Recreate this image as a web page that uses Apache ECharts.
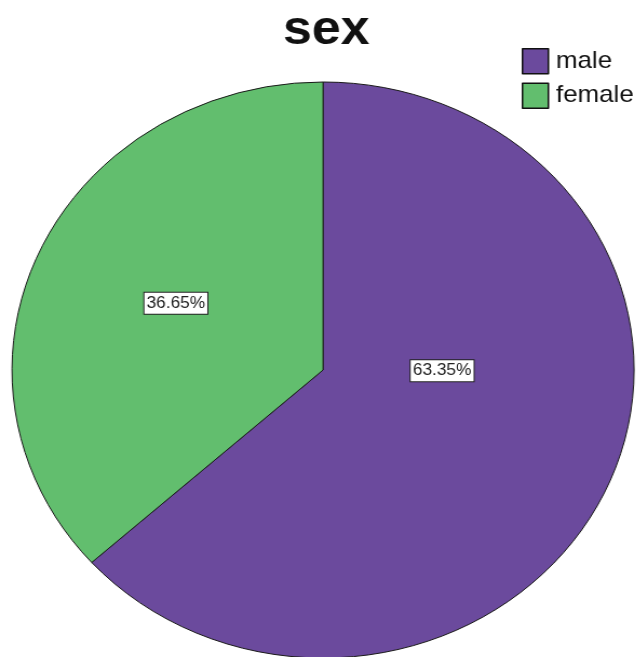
<!DOCTYPE html>
<html>
<head>
<meta charset="utf-8">
<script src="https://cdn.jsdelivr.net/npm/echarts@6/dist/echarts.min.js"></script>
<style>
  html, body { margin: 0; padding: 0; background: #fff; overflow: hidden; }
  #wrap { width: 643px; height: 657px; position: relative; overflow: hidden; }
  /* The reference image is stretched horizontally by ~8% (elliptical pie, wide text) */
  #chart { width: 595.4px; height: 657px; position: absolute; left: 0; top: 0;
           transform: scaleX(1.08); transform-origin: 0 0; }
</style>
</head>
<body>
<div id="wrap"><div id="chart"></div></div>
<script>
const titleText = 'sex';
const categories = ['male', 'female'];
const percentValues = [63.35, 36.65];
const sliceColors = ['#6b4a9d', '#62be6e'];
const labelOffsets = [[-24, -59], [-2, -7]];

const chart = echarts.init(document.getElementById('chart'), null, { renderer: 'canvas' });

const data = categories.map((name, i) => ({
  name: name,
  value: percentValues[i],
  itemStyle: { color: sliceColors[i] },
  label: { offset: labelOffsets[i] }
}));

chart.setOption({
  animation: false,
  backgroundColor: '#ffffff',
  title: {
    text: titleText,
    left: 262,
    top: 7,
    padding: 0,
    textStyle: {
      fontFamily: 'Liberation Sans, Arial, sans-serif',
      fontSize: 48,
      fontWeight: 'bold',
      color: '#111111'
    }
  },
  legend: {
    orient: 'vertical',
    left: 483,
    top: 48,
    padding: 0,
    itemWidth: 24,
    itemHeight: 25,
    itemGap: 8,
    icon: 'rect',
    data: categories,
    textStyle: {
      fontFamily: 'Liberation Sans, Arial, sans-serif',
      fontSize: 24,
      color: '#111111',
      padding: [0, 0, 0, 2]
    },
    itemStyle: { borderColor: '#111111', borderWidth: 1.5 }
  },
  series: [{
    type: 'pie',
    center: [299.1, 370],
    radius: [0, 288],
    startAngle: 90,
    clockwise: true,
    avoidLabelOverlap: false,
    emphasis: { disabled: true },
    itemStyle: { borderColor: '#1a1a1a', borderWidth: 1 },
    label: {
      show: true,
      position: 'inside',
      formatter: '{d}%',
      fontFamily: 'Liberation Sans, Arial, sans-serif',
      fontSize: 16,
      color: '#222222',
      backgroundColor: '#ffffff',
      borderColor: '#222222',
      borderWidth: 1,
      padding: [2, 2, 1, 2],
      lineHeight: 18
    },
    labelLine: { show: false },
    data: data
  }]
});
</script>
</body>
</html>
